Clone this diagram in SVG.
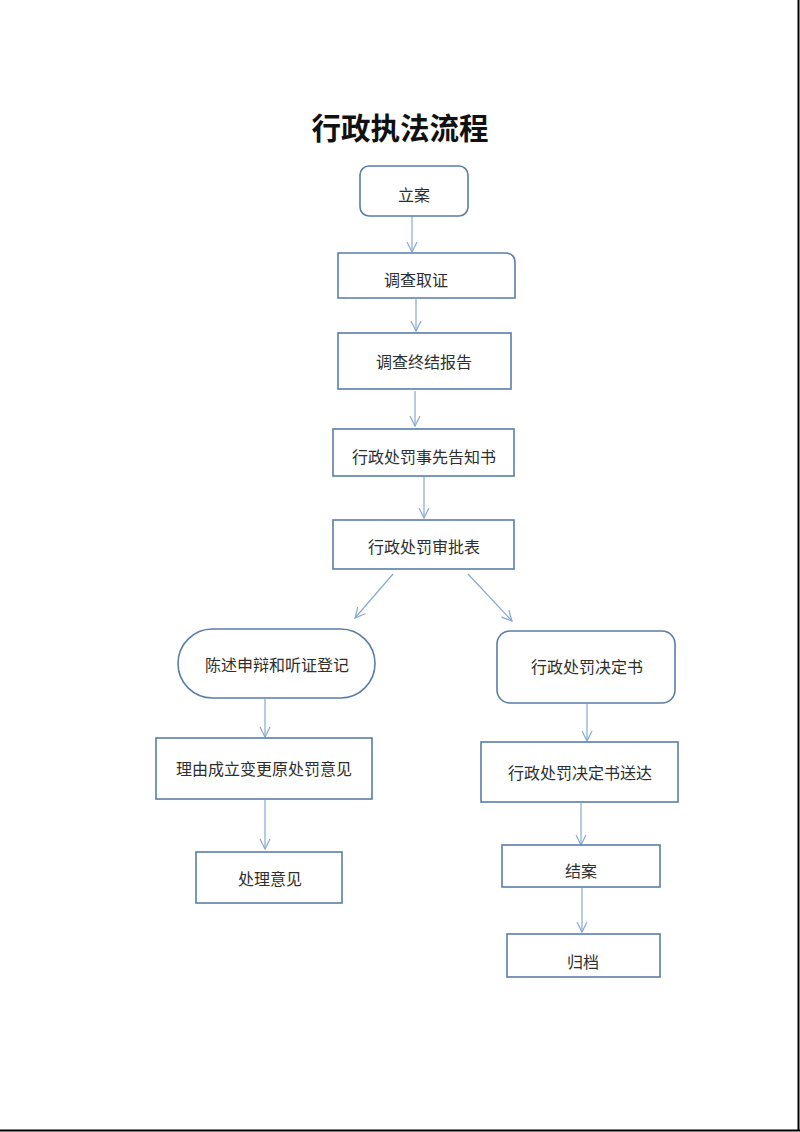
<svg xmlns="http://www.w3.org/2000/svg" width="800" height="1132" viewBox="0 0 800 1132">
<defs>
<style>
.box{fill:#ffffff;stroke:#5a7ea6;stroke-width:1.6}
.lbl{font-family:"Noto Sans CJK SC","Noto Sans",sans-serif;font-size:16px;fill:#2e2e2e;text-anchor:middle;dominant-baseline:central}
.title{font-family:"Noto Sans CJK SC","Noto Sans",sans-serif;font-size:29.5px;font-weight:bold;fill:#111;text-anchor:middle;dominant-baseline:central}
.conn{stroke:#86a9d2;stroke-width:1.2;fill:none;marker-end:url(#ah)}
</style>
<marker id="ah" viewBox="0 0 12 12" refX="11" refY="6" markerWidth="12" markerHeight="12" markerUnits="userSpaceOnUse" orient="auto">
<path d="M1,1 L11,6 L1,11" fill="none" stroke="#86a9d2" stroke-width="1.2"/>
</marker>
</defs>
<rect x="0" y="0" width="800" height="1132" fill="#ffffff"/>
<line x1="798.5" y1="0" x2="798.5" y2="1131" stroke="#000" stroke-width="2"/>
<line x1="0" y1="1130.5" x2="800" y2="1130.5" stroke="#000" stroke-width="2"/>
<text class="title" x="400" y="126">行政执法流程</text>
<g id="connectors">
<line class="conn" x1="412" y1="216" x2="412" y2="252"/>
<line class="conn" x1="416" y1="299" x2="416" y2="331"/>
<line class="conn" x1="415" y1="391" x2="415" y2="426"/>
<line class="conn" x1="424" y1="477" x2="424" y2="518"/>
<line class="conn" x1="393" y1="574" x2="355" y2="618"/>
<line class="conn" x1="468" y1="574" x2="512" y2="621"/>
<line class="conn" x1="265" y1="699" x2="265" y2="737"/>
<line class="conn" x1="265" y1="800" x2="265" y2="849"/>
<line class="conn" x1="587" y1="704" x2="587" y2="741"/>
<line class="conn" x1="581" y1="803" x2="581" y2="845"/>
<line class="conn" x1="582" y1="888" x2="582" y2="932"/>
</g>
<g id="n1"><rect class="box" x="360" y="166" width="108" height="50" rx="9"/><text class="lbl" x="414" y="194">立案</text></g>
<g id="n2"><path class="box" d="M338,253 H505 Q515,253 515,263 V298 H338 Z"/><text class="lbl" x="416" y="279">调查取证</text></g>
<g id="n3"><rect class="box" x="338" y="333" width="173" height="56"/><text class="lbl" x="424" y="361">调查终结报告</text></g>
<g id="n4"><rect class="box" x="333" y="429" width="181" height="47"/><text class="lbl" x="424" y="456">行政处罚事先告知书</text></g>
<g id="n5"><rect class="box" x="333" y="520" width="181" height="49"/><text class="lbl" x="424" y="546">行政处罚审批表</text></g>
<g id="n6"><rect class="box" x="178" y="629" width="197" height="69" rx="34.5"/><text class="lbl" x="277" y="664">陈述申辩和听证登记</text></g>
<g id="n7"><rect class="box" x="497" y="631" width="178" height="72" rx="13"/><text class="lbl" x="587" y="666">行政处罚决定书</text></g>
<g id="n8"><rect class="box" x="156" y="738" width="216" height="61"/><text class="lbl" x="264" y="768">理由成立变更原处罚意见</text></g>
<g id="n9"><rect class="box" x="196" y="852" width="146" height="51"/><text class="lbl" x="270" y="878">处理意见</text></g>
<g id="n10"><rect class="box" x="481" y="742" width="197" height="60"/><text class="lbl" x="580" y="772">行政处罚决定书送达</text></g>
<g id="n11"><rect class="box" x="502" y="845" width="158" height="42"/><text class="lbl" x="581" y="870">结案</text></g>
<g id="n12"><rect class="box" x="507" y="934" width="153" height="43"/><text class="lbl" x="583" y="961">归档</text></g>
</svg>
